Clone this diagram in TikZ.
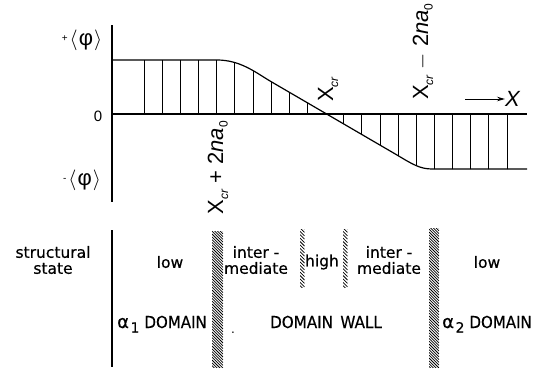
\documentclass[tikz,border=0pt]{standalone}
\usepackage{fontspec}
\setmainfont{DejaVu Sans}
\newfontfamily\labfont{Liberation Sans}
\newfontfamily\lowfont[FakeBold=0.5]{DejaVu Sans}
\usetikzlibrary{arrows.meta}
\newcommand{\fsz}[1]{\fontsize{#1}{#1}\selectfont}
\newcommand{\subcr}{\raisebox{-5pt}{\fsz{12}\itshape cr}}
\newcommand{\subnull}{\raisebox{-4.5pt}{\fsz{12}0}}
\newcommand{\hatchbar}[6]{%
  \begin{scope}
    \clip (#1,#2) rectangle (#3,#4);
    \pgfmathsetmacro\hbw{#3-#1}
    \foreach \k in {0,...,#6}
      \draw[hatch] (#1,{#2-\hbw+\k*#5}) -- ++(\hbw,\hbw);
  \end{scope}}
\begin{document}
\begin{tikzpicture}[x=1pt,y=-1pt,
  axisline/.style={line width=1.2pt},
  curveline/.style={line width=1.2pt, line join=round},
  vline/.style={line width=0.8pt},
  hatch/.style={line width=0.75pt},
  toplab/.style={font=\labfont\fsz{22}, inner sep=0pt},
  rotlab/.style={font=\labfont\fsz{22}, inner sep=0pt, rotate=90},
  lowtxt/.style={font=\lowfont\fontsize{15.5}{16}\selectfont, align=center, inner sep=0pt},
  domtxt/.style={font=\lowfont, inner sep=0pt, anchor=base west}]
\useasboundingbox (0,0) rectangle (533,367);

% axes
\coordinate (axtop) at (112,25);
\coordinate (axbot) at (112,202);
\draw[axisline] (axtop) -- (axbot);
\coordinate (z0) at (112,114);
\coordinate (z1) at (527,114);
\draw[curveline] (z0) -- (z1);

% hatch lines between curve and zero line
\begin{scope}
  \clip (112,60) -- (217,60) .. controls (240,60) and (255,72) .. (270,81)
        -- (397,155) .. controls (412,164) and (420,169) .. (432,169)
        -- (527,169) -- (527,114) -- (112,114) -- cycle;
  \foreach \i in {0,...,20}
    \draw[vline] ({144+18.15*\i},40) -- ++(0,150);
\end{scope}

% order parameter curve
\draw[curveline] (112,60) -- (217,60) .. controls (240,60) and (255,72) .. (270,81)
        -- (397,155) .. controls (412,164) and (420,169) .. (432,169) -- (527,169);

% axis labels
\node[toplab] (pphi) at (82,40) {\raisebox{4pt}{\fsz{10}+}\hspace{2pt}$\langle$\hspace{1pt}φ\hspace{1pt}$\rangle$};
\node[toplab, font=\labfont\fsz{15}] (zero) at (98,116) {0};
\node[toplab] (mphi) at (82,180) {\raisebox{4pt}{\fsz{10}-}\hspace{2pt}$\langle$\hspace{1pt}φ\hspace{1pt}$\rangle$};

% rotated position labels
\node[rotlab, anchor=base east] (xplus) at (223,121) {X\subcr\ + 2\textit{na}\subnull};
\node[rotlab, anchor=base west] (xcr) at (333,102) {X\subcr};
\node[rotlab, anchor=base west] (xminus) at (428,100) {X\subcr\ $-$ 2\textit{na}\subnull};

% x arrow
\coordinate (arrs) at (465,99);
\node[font=\labfont\itshape\fsz{22}, inner sep=0pt, anchor=west] (xax) at (505,99) {X};
\draw[-{Stealth[length=8pt,width=4.5pt]}, line width=1pt] (arrs) -- (xax.west);

% lower part
\coordinate (lt) at (112,230);
\coordinate (lb) at (112,367);
\draw[axisline] (lt) -- (lb);

\hatchbar{212}{231}{223}{367}{2.8}{54}
\hatchbar{429}{228}{439}{367}{2.8}{55}
\hatchbar{300}{229}{304.5}{287}{3.4}{19}
\hatchbar{343}{229}{347.5}{287}{3.4}{19}

\node[lowtxt] (st) at (53,260) {structural\\state};
\node[lowtxt] (low1) at (170,262) {low};
\node[lowtxt] (int1) at (256,260) {inter -\\mediate};
\node[lowtxt] (high) at (322,262) {high};
\node[lowtxt] (int2) at (389,260) {inter -\\mediate};
\node[lowtxt] (low2) at (487,262) {low};

\node[domtxt] (dom1) at (117,328) {{\fsz{18}α}\hspace{1.5pt}\raisebox{-4.5pt}{\fsz{14}1}\hspace{5pt}\scalebox{0.91}[1]{\fsz{16.5}DOMAIN}};
\node[domtxt] (dom2) at (442,328) {{\fsz{18}α}\hspace{1.5pt}\raisebox{-4.5pt}{\fsz{14}2}\hspace{5pt}\scalebox{0.91}[1]{\fsz{16.5}DOMAIN}};
\node[inner sep=0pt, anchor=base, font=\lowfont] (wall) at (326,328) {\scalebox{0.92}[1]{\fsz{16.5}DOMAIN\hspace{8pt}WALL}};
\node[inner sep=0pt, anchor=base, font=\fsz{12}] (dot) at (233,333) {.};
\end{tikzpicture}
\end{document}
